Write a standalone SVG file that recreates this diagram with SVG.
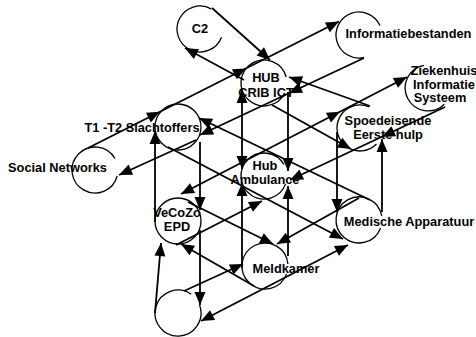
<svg xmlns="http://www.w3.org/2000/svg" width="476" height="337" viewBox="0 0 476 337">
<defs>
<style>
.n{fill:none;stroke:#000;stroke-width:1.3}
.c{fill:none;stroke:#000;stroke-width:1.8}
text{font-family:"Liberation Sans",Arial,sans-serif;font-weight:bold;font-size:12.8px;text-anchor:middle;fill:#000}
</style>
<path id="a" d="M0,0 L-13,-5.5 L-13,5.5 Z" fill="#000"/>
</defs>
<rect width="476" height="337" fill="#fff"/>
<g id="connectors">
<path class="c" d="M212,8 L270,60"/>
<use href="#a" transform="translate(270,60) rotate(41.9)"/>
<path class="c" d="M244,80 L185,48"/>
<use href="#a" transform="translate(185,48) rotate(208.5)"/>
<path class="c" d="M88,148 L339,21.5"/>
<use href="#a" transform="translate(160,111.7) rotate(-26.7)"/>
<use href="#a" transform="translate(246,68.4) rotate(-26.7)"/>
<use href="#a" transform="translate(339,21.5) rotate(-26.7)"/>
<path class="c" d="M364,58 L200,135"/>
<use href="#a" transform="translate(289,93.2) rotate(154.8)"/>
<use href="#a" transform="translate(200,135) rotate(154.8)"/>
<path class="c" d="M196,140 L119,175"/>
<use href="#a" transform="translate(119,175) rotate(155.6)"/>
<path class="c" d="M370,106 L289,77"/>
<use href="#a" transform="translate(289,77) rotate(199.7)"/>
<path class="c" d="M370,200 L199,118"/>
<use href="#a" transform="translate(199,118) rotate(205.6)"/>
<path class="c" d="M168,147 L343,239"/>
<use href="#a" transform="translate(343,239) rotate(27.7)"/>
<path class="c" d="M181,194 L407,77"/>
<use href="#a" transform="translate(181,194) rotate(152.6)"/>
<use href="#a" transform="translate(340,111.7) rotate(-27.4)"/>
<use href="#a" transform="translate(407,77) rotate(-27.4)"/>
<path class="c" d="M445,107 L290,180"/>
<use href="#a" transform="translate(382,136.7) rotate(154.8)"/>
<use href="#a" transform="translate(290,180) rotate(154.8)"/>
<path class="c" d="M176,245 L262,201"/>
<use href="#a" transform="translate(262,201) rotate(-27.1)"/>
<path class="c" d="M272,105 L351,149"/>
<use href="#a" transform="translate(351,149) rotate(29.1)"/>
<path class="c" d="M188,202 L273,244"/>
<use href="#a" transform="translate(273,244) rotate(26.3)"/>
<path class="c" d="M254,286 L181,244"/>
<use href="#a" transform="translate(181,244) rotate(209.9)"/>
<path class="c" d="M184,291 L243,264"/>
<use href="#a" transform="translate(243,264) rotate(-24.6)"/>
<path class="c" d="M201,321 L348,245"/>
<use href="#a" transform="translate(348,245) rotate(-27.3)"/>
<use href="#a" transform="translate(201,321) rotate(152.7)"/>
<path class="c" d="M359,198 L277,244"/>
<use href="#a" transform="translate(277,244) rotate(150.7)"/>
<path class="c" d="M155,222 L155,131"/>
<use href="#a" transform="translate(155,131) rotate(-90)"/>
<path class="c" d="M200,142 L200,210"/>
<use href="#a" transform="translate(200,210) rotate(90)"/>
<path class="c" d="M200,230 L200,305"/>
<use href="#a" transform="translate(200,305) rotate(90)"/>
<path class="c" d="M155,313 L161,243"/>
<use href="#a" transform="translate(161,243) rotate(-85.1)"/>
<path class="c" d="M242,90 L242,169"/>
<use href="#a" transform="translate(242,90) rotate(-90)"/>
<use href="#a" transform="translate(242,169) rotate(90)"/>
<path class="c" d="M242,268 L242,183"/>
<use href="#a" transform="translate(242,183) rotate(-90)"/>
<path class="c" d="M288,92 L288,171"/>
<use href="#a" transform="translate(288,171) rotate(90)"/>
<path class="c" d="M288,256 L288,186"/>
<use href="#a" transform="translate(288,186) rotate(-90)"/>
<path class="c" d="M337,132 L337,212"/>
<use href="#a" transform="translate(337,212) rotate(90)"/>
<path class="c" d="M382,212 L382,139"/>
<use href="#a" transform="translate(382,139) rotate(-90)"/>
</g>
<g id="c2"><path class="n" d="M221.5,37.2 A23,23 0 1 1 211.2,8.9"/><text x="200" y="33">C2</text></g>
<g id="informatiebestanden"><path class="n" d="M363.8,57.5 A23,23 0 1 1 380,25.6"/><text x="408.5" y="37.5">Informatiebestanden</text></g>
<g id="hub-crib-ict"><path class="n" d="M284.8,92.7 A23,23 0 1 1 286.2,77"/><text x="266" y="82">HUB</text><text x="266" y="97">CRIB ICT</text></g>
<g id="t1-t2"><circle class="n" cx="178" cy="127" r="23"/><text x="142" y="131.5">T1 -T2 Slachtoffers</text></g>
<g id="social-networks"><path class="n" d="M117.2,176 A23,23 0 1 1 114.9,158.5"/><text x="57.5" y="172">Social Networks</text></g>
<g id="ziekenhuis"><path class="n" d="M444.3,104.3 A23,23 0 1 1 424,65.3"/><text x="444" y="75">Ziekenhuis</text><text x="444" y="88.5">Informatie</text><text x="440" y="102">Systeem</text></g>
<g id="spoedeisende"><path class="n" d="M376.5,144 A23,23 0 1 1 369,106.8"/><text x="388" y="125">Spoedeisende</text><text x="388" y="138.5">Eerste hulp</text></g>
<g id="hub-ambulance"><path class="n" d="M285.6,183.9 A23,23 0 1 1 283.9,164.5"/><text x="265" y="170">Hub</text><text x="265" y="184">Ambulance</text></g>
<g id="vecozo"><circle class="n" cx="178" cy="221" r="23"/><text x="177" y="217">VeCoZo</text><text x="177" y="231">EPD</text></g>
<g id="meldkamer"><path class="n" d="M286.6,273.9 A23,23 0 1 1 287.9,264"/><text x="286" y="273">Meldkamer</text></g>
<g id="medische"><path class="n" d="M380.6,227.9 A23,23 0 1 1 381.7,216"/><text x="409" y="226">Medische Apparatuur</text></g>
<g id="empty"><path class="n" d="M199.6,305.1 A23,23 0 1 1 191.2,294.2"/></g>
</svg>
